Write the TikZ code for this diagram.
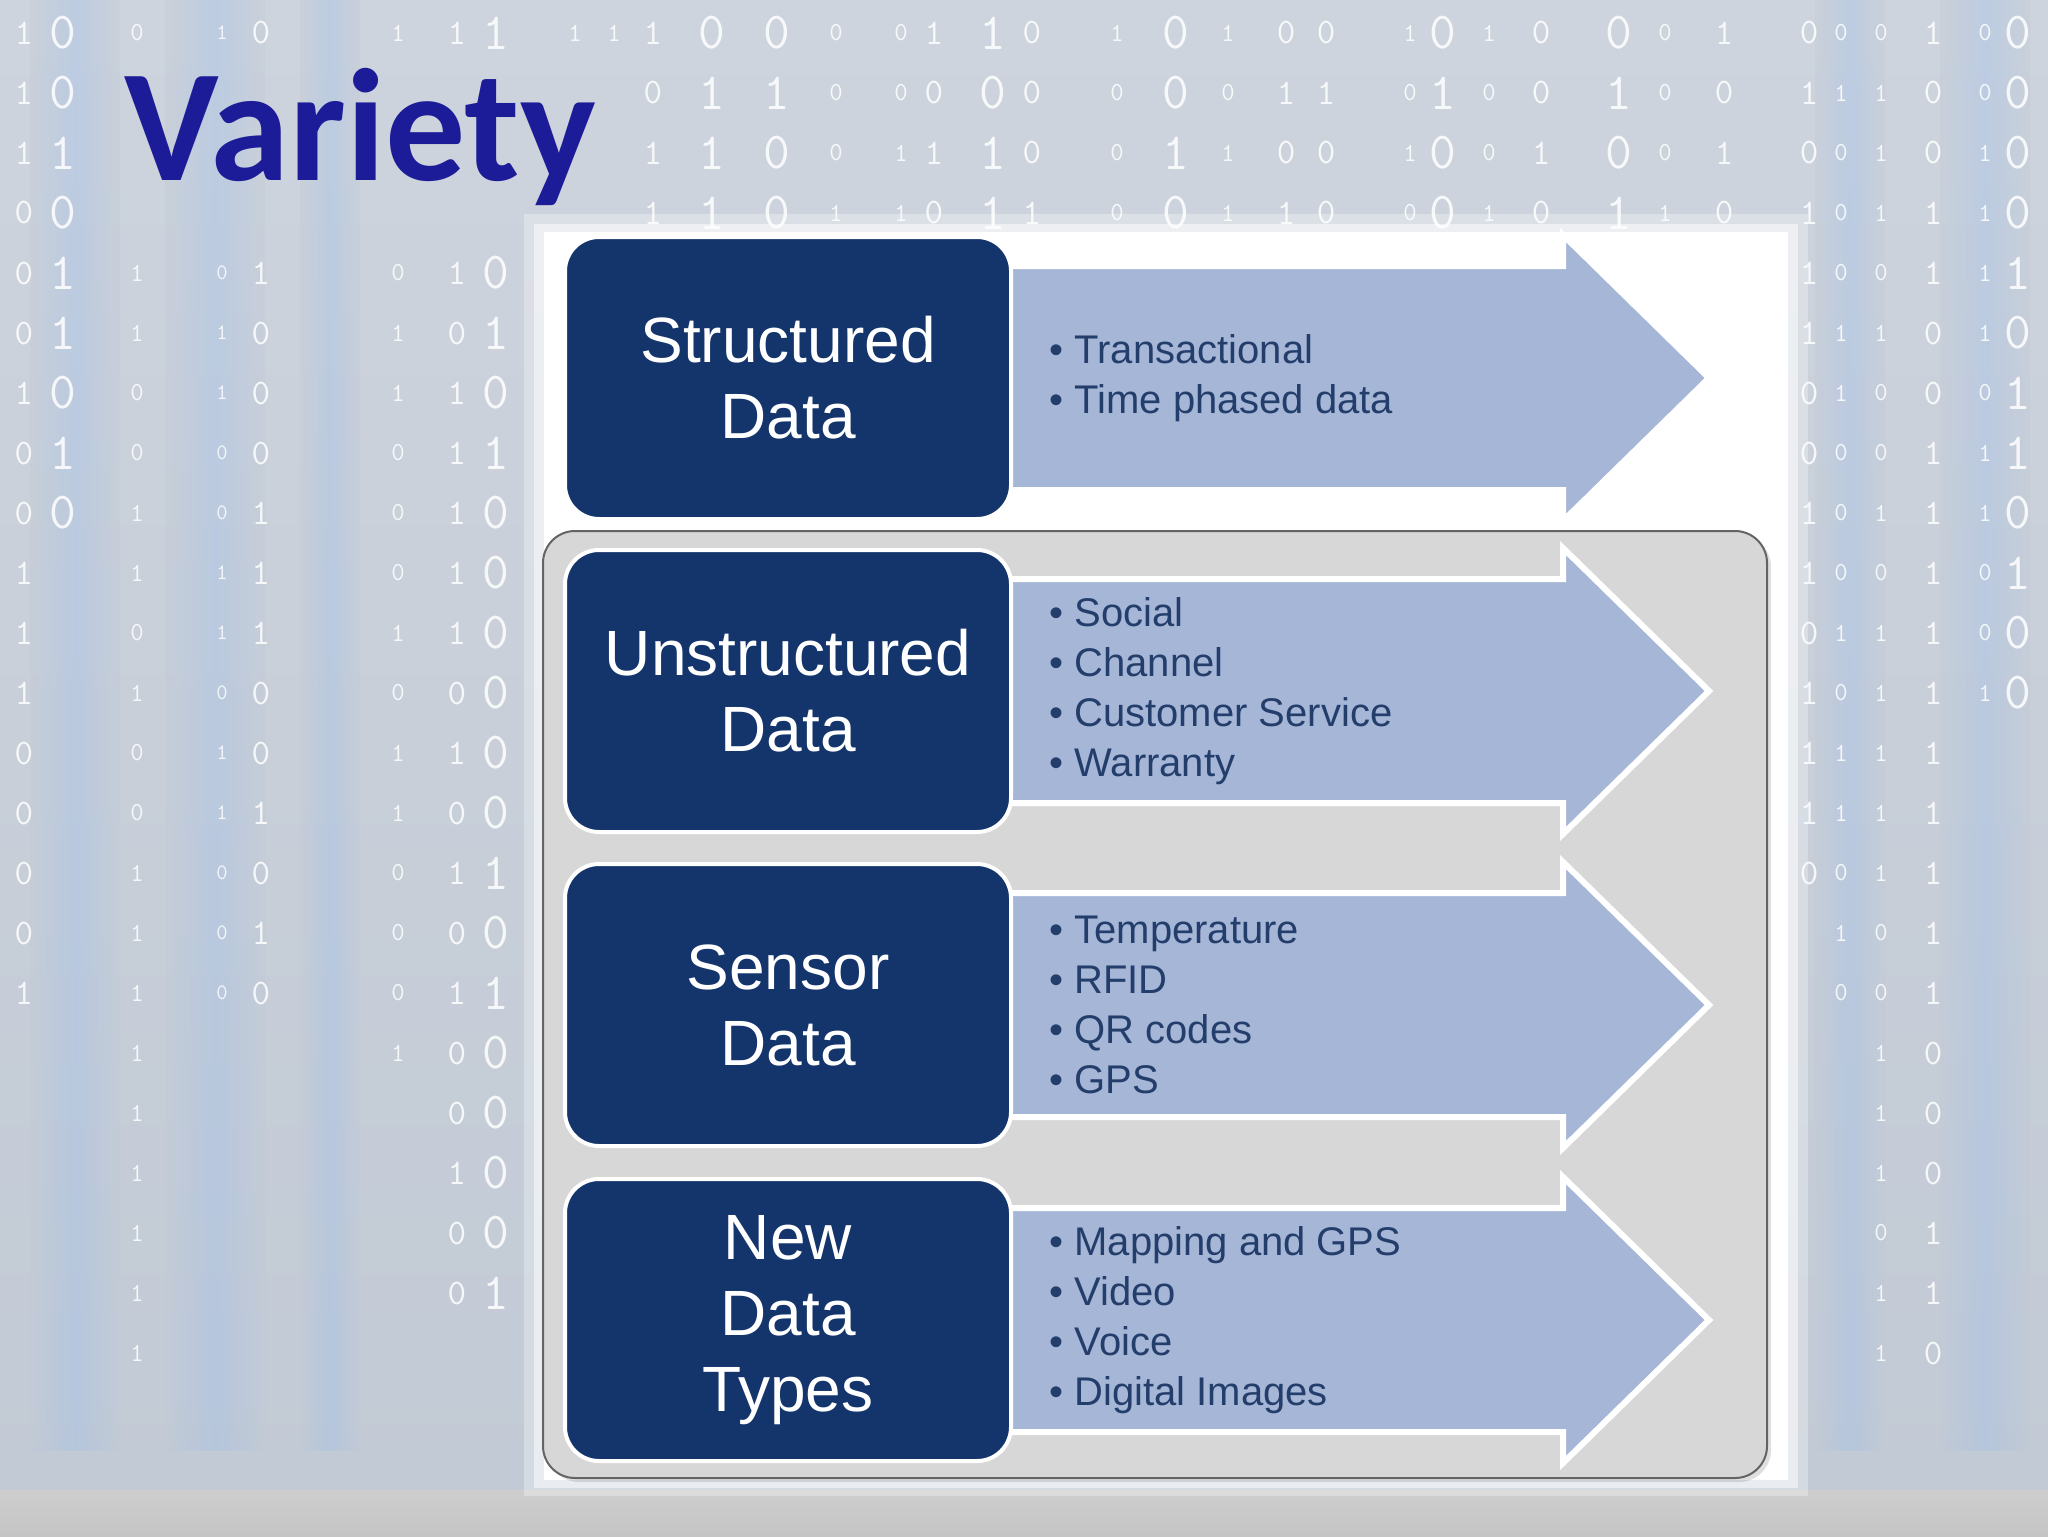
\documentclass[tikz,border=0pt]{standalone}
\usepackage{fontspec}
\setmainfont{Liberation Sans}
\newfontfamily\titlefont{Carlito}
\usetikzlibrary{shadows}

\definecolor{slidebg}{RGB}{194,202,213}
\definecolor{slidebgtop}{RGB}{206,212,221}
\definecolor{floorgrey}{RGB}{197,197,197}
\definecolor{streakblue}{RGB}{158,190,234}
\definecolor{panelgrey}{RGB}{215,215,215}
\definecolor{rimgrey}{RGB}{100,100,100}
\definecolor{navybox}{RGB}{20,52,108}
\definecolor{arrowblue}{RGB}{166,182,214}
\definecolor{itemblue}{RGB}{36,62,108}
\definecolor{titleblue}{RGB}{28,28,152}

\begin{document}
\begin{tikzpicture}[x=0.5pt, y=-0.5pt,
    bit/.style={text=white, opacity=0.85, inner sep=0pt, font=\ttfamily\fontsize{#1}{#1}\selectfont},
    typebox/.style={rectangle, rounded corners=17pt, draw=white, line width=2pt, fill=navybox, text=white, minimum width=223pt, minimum height=141pt, align=center, font=\fontsize{32}{38}\selectfont},
    itemlist/.style={anchor=west, align=left, inner sep=0pt, text=itemblue, font=\fontsize{20}{25}\selectfont},
    flowarrow/.style={fill=arrowblue, draw=white, line width=3pt, line join=miter},
    title/.style={anchor=base west, inner sep=0pt, text=titleblue, font=\titlefont\bfseries\fontsize{80}{82}\selectfont}
]
\useasboundingbox (0,0) rectangle (2048,1536);

% Background with binary rain
\shade[top color=slidebgtop, bottom color=slidebg] (0,0) rectangle (2048,1500);
\shade[top color=floorgrey!85!white, bottom color=floorgrey] (0,1490) rectangle (2048,1536);
\foreach \sx/\sw in {75/90, 215/100, 330/60, 1850/70, 1985/90}
  \shade[left color=slidebg, right color=slidebg, middle color=streakblue, opacity=0.35] (\sx-\sw/2,0) rectangle (\sx+\sw/2,1450);

\pgfmathsetseed{11}
\foreach \bx/\bs/\be in {24/18/1050, 63/26/520, 137/13/1410, 222/11/1050, 261/18/1050, 398/13/1100, 457/18/1300, 496/26/1310,
    575/13/300, 614/13/300, 653/18/300, 712/26/300, 777/26/300, 836/13/300, 901/13/300, 934/18/300, 993/26/300, 1032/18/300,
    1117/13/300, 1176/26/300, 1228/13/300, 1286/18/300, 1326/18/300, 1410/13/300, 1443/26/300, 1489/13/300, 1541/18/300,
    1619/26/300, 1665/13/300, 1724/18/300,
    1809/18/910, 1841/13/1050, 1881/13/1410, 1933/18/1410, 1985/13/720, 2018/26/710}
  \foreach \by in {33,93,...,\be} {
    \pgfmathrandominteger{\bv}{0}{1}
    \pgfmathtruncatemacro\behind{and(\bx>100, \bx<620) && and(\by>60, \by<215)}
    \ifnum\behind=0
      \node[bit=\bs] (bit-\bx-\by) at (\bx,\by) {\bv};
    \fi
  }

% White panel and grey frame
\fill[white, opacity=0.3] (524,214) rectangle (1808,1496);
\fill[white, opacity=0.5] (534,224) rectangle (1798,1488);
\fill[white] (544,232) rectangle (1788,1480);
\filldraw[fill=panelgrey, draw=rimgrey, line width=1pt, rounded corners=16pt,
    drop shadow={opacity=0.25, shadow xshift=2pt, shadow yshift=-2pt}] (543,531) rectangle (1767,1478);

% Arrows
\draw[flowarrow] (990,266) -- (1563,266) -- (1563,235) -- (1709,378) -- (1563,521) -- (1563,490) -- (990,490) -- cycle;
\draw[flowarrow] (990,579) -- (1563,579) -- (1563,548) -- (1709,691) -- (1563,834) -- (1563,803) -- (990,803) -- cycle;
\draw[flowarrow] (990,893) -- (1563,893) -- (1563,862) -- (1709,1005) -- (1563,1148) -- (1563,1117) -- (990,1117) -- cycle;
\draw[flowarrow] (990,1208) -- (1563,1208) -- (1563,1177) -- (1709,1320) -- (1563,1463) -- (1563,1432) -- (990,1432) -- cycle;

% Data types
\node[typebox] (structured) at (788,378) {Structured\\Data};
\node[typebox] (unstructured) at (788,691) {Unstructured\\Data};
\node[typebox] (sensor) at (788,1005) {Sensor\\Data};
\node[typebox] (newtypes) at (788,1320) {New\\Data\\Types};

% Examples
\node[itemlist] (structuredItems) at (1049,378) {\textbullet\ Transactional\\\textbullet\ Time phased data};
\node[itemlist] (unstructuredItems) at (1049,691) {\textbullet\ Social\\\textbullet\ Channel\\\textbullet\ Customer Service\\\textbullet\ Warranty};
\node[itemlist] (sensorItems) at (1049,1005) {\textbullet\ Temperature\\\textbullet\ RFID\\\textbullet\ QR codes\\\textbullet\ GPS};
\node[itemlist] (newtypesItems) at (1049,1320) {\textbullet\ Mapping and GPS\\\textbullet\ Video\\\textbullet\ Voice\\\textbullet\ Digital Images};

% Title
\node[title] (title) at (124,180) {Variety};

\end{tikzpicture}
\end{document}
